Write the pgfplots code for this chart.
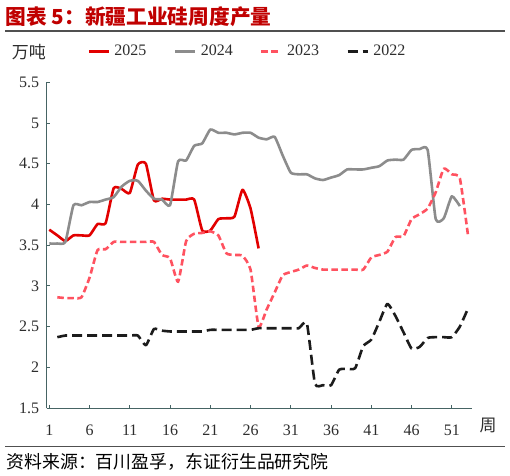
\documentclass[border=0pt]{standalone}
\usepackage{fontspec}
\usepackage{pgfplots}
\pgfplotsset{compat=1.18}
\usepackage{pgfplotstable}
\setmainfont{Liberation Serif}
\newfontfamily\cjk{Noto Sans CJK SC}
\definecolor{c25}{RGB}{226,0,0}
\definecolor{c24}{RGB}{140,140,140}
\definecolor{c23}{RGB}{255,82,96}
\definecolor{c22}{RGB}{28,28,28}
\definecolor{titlered}{RGB}{192,0,0}
\definecolor{axiscol}{RGB}{70,100,100}
\definecolor{labcol}{RGB}{45,45,45}
\definecolor{rulecol}{RGB}{80,80,80}

\pgfplotstableread{
w v
1 3.69
2 3.62
3 3.55
4 3.62
5 3.62
6 3.62
7 3.76
8 3.77
9 4.20
10 4.19
11 4.14
12 4.49
13 4.50
14 4.05
15 4.07
16 4.06
17 4.06
18 4.06
19 4.06
20 3.68
21 3.68
22 3.82
23 3.83
24 3.85
25 4.18
26 3.95
27 3.46
}\dA

\pgfplotstableread{
w v
1 3.52
2 3.52
3 3.54
4 3.99
5 3.99
6 4.03
7 4.03
8 4.06
9 4.09
10 4.22
11 4.29
12 4.29
13 4.17
14 4.07
15 4.06
16 3.99
17 4.53
18 4.54
19 4.72
20 4.75
21 4.92
22 4.88
23 4.88
24 4.86
25 4.88
26 4.88
27 4.82
28 4.80
29 4.83
30 4.60
31 4.39
32 4.37
33 4.37
34 4.32
35 4.30
36 4.33
37 4.36
38 4.43
39 4.43
40 4.43
41 4.45
42 4.47
43 4.54
44 4.55
45 4.55
46 4.67
47 4.68
48 4.67
49 3.82
50 3.83
51 4.10
52 3.98
}\dB

\pgfplotstableread{
w v
2 2.86
3 2.85
4 2.85
5 2.86
6 3.10
7 3.44
8 3.45
9 3.54
10 3.54
11 3.54
12 3.54
13 3.54
14 3.54
15 3.38
16 3.34
17 3.05
18 3.55
19 3.64
20 3.65
21 3.67
22 3.62
23 3.40
24 3.38
25 3.37
26 3.20
27 2.50
28 2.71
29 2.92
30 3.13
31 3.17
32 3.20
33 3.25
34 3.22
35 3.20
36 3.20
37 3.20
38 3.20
39 3.20
40 3.20
41 3.35
42 3.38
43 3.42
44 3.60
45 3.61
46 3.82
47 3.88
48 3.95
49 4.15
50 4.44
51 4.37
52 4.32
53 3.63
}\dC

\pgfplotstableread{
w v
2 2.37
3 2.39
4 2.39
5 2.39
6 2.39
7 2.39
8 2.39
9 2.39
10 2.39
11 2.39
12 2.39
13 2.27
14 2.47
15 2.45
16 2.44
17 2.44
18 2.44
19 2.44
20 2.44
21 2.46
22 2.46
23 2.46
24 2.46
25 2.46
26 2.46
27 2.48
28 2.48
29 2.48
30 2.48
31 2.48
32 2.48
33 2.54
34 1.80
35 1.78
36 1.78
37 1.97
38 1.98
39 1.99
40 2.26
41 2.34
42 2.56
43 2.78
44 2.63
45 2.43
46 2.23
47 2.25
48 2.36
49 2.37
50 2.37
51 2.37
52 2.50
53 2.72
}\dD

\begin{document}
\begin{tikzpicture}
\path[use as bounding box] (0pt,0pt) rectangle (510pt,475pt);
% title
\node[anchor=west, inner sep=0pt, text=titlered, font=\cjk\bfseries\fontsize{20.7}{21}\selectfont] at (5.5pt,458.3pt) {图表 5：新疆工业硅周度产量};
\draw[rulecol, line width=1.3pt] (5pt,444pt) -- (505pt,444pt);
\draw[rulecol, line width=1.3pt] (5pt,28.3pt) -- (505pt,28.3pt);
\node[anchor=west, inner sep=0pt, text=labcol, font=\cjk\fontsize{17}{17}\selectfont] at (11.7pt,423.3pt) {万吨};
\node[inner sep=0pt, text=labcol, font=\cjk\fontsize{17}{17}\selectfont] at (488pt,50pt) {周};
\node[anchor=west, inner sep=0pt, text=black, font=\cjk\fontsize{17.9}{18}\selectfont] at (6.2pt,13.3pt) {资料来源：百川盈孚，东证衍生品研究院};

\begin{axis}[
  at={(46.7pt,67pt)}, anchor=south west,
  scale only axis, width=425pt, height=325.7pt,
  xmin=0.68, xmax=53.47, ymin=1.5, ymax=5.5,
  xtick={1,6,11,16,21,26,31,36,41,46,51},
  ytick={1.5,2,2.5,3,3.5,4,4.5,5,5.5},
  axis x line=bottom, axis y line=left,
  axis line style={-, draw=axiscol, line width=1pt},
  tick align=inside, major tick length=3pt,
  tick style={draw=axiscol, line width=0.8pt},
  minor tick num=0,
  /pgf/number format/assume math mode=true,
  ticklabel style={font=\fontsize{16}{16}\selectfont, text=labcol},
  yticklabel style={inner sep=0pt, anchor=east, xshift=-7.4pt},
  xticklabel style={inner sep=0pt, anchor=base, yshift=-27.4pt},
  legend columns=4,
  legend style={draw=none, fill=none, at={(0.0955,1.095)}, anchor=west,
    inner sep=0pt, nodes={inner sep=0pt, text=labcol},
    font=\fontsize{16}{16}\selectfont,
    /tikz/every odd column/.append style={column sep=4.4pt},
    /tikz/every even column/.append style={column sep=27.3pt}},
  legend image code/.code={\draw[#1] (0pt,0pt) -- (20pt,0pt);},
  every axis plot/.append style={line width=2.6pt, line join=round, smooth, tension=0.3},
]
\addplot[c25] table[x=w,y=v] {\dA};
\addlegendentry{2025}
\addplot[c24] table[x=w,y=v] {\dB};
\addlegendentry{2024}
\addplot[c23, dash pattern=on 6.5pt off 3.5pt] table[x=w,y=v] {\dC};
\addlegendentry{2023}
\addplot[c22, dash pattern=on 10pt off 5pt] table[x=w,y=v] {\dD};
\addlegendentry{2022}
\end{axis}
\end{tikzpicture}
\end{document}
